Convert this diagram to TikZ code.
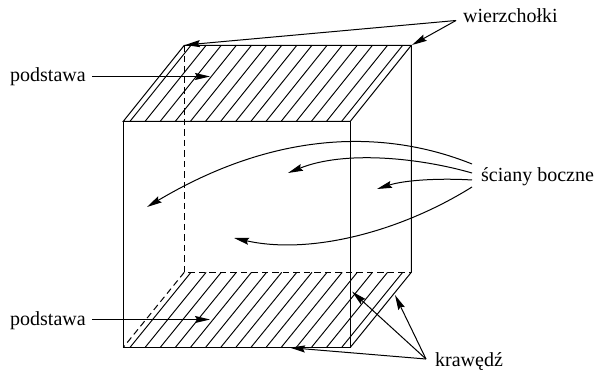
\documentclass[tikz,border=0pt]{standalone}
\usepackage{fontspec}
\setmainfont{Liberation Serif}
\usetikzlibrary{arrows.meta}
\tikzset{
  edge/.style={line width=1pt},
  hatch/.style={line width=0.95pt},
  dashedge/.style={line width=1pt,dash pattern=on 6.5pt off 4pt},
  pointer/.style={line width=1pt,-{Stealth[inset=2pt,length=15pt,width=7pt]}},
  label/.style={inner sep=0pt,font=\fontsize{20}{24}\selectfont,text=black,anchor=base west}
}
\begin{document}
\begin{tikzpicture}[x=1pt,y=-1pt]
\useasboundingbox (0,0) rectangle (596,371);
\coordinate (A) at (123.3,121.3);
\coordinate (B) at (350.3,121.3);
\coordinate (C) at (411.3,45.3);
\coordinate (D) at (184.3,45.3);
\coordinate (E) at (123.3,347.4);
\coordinate (F) at (350.3,347.4);
\coordinate (G) at (411.3,272.3);
\coordinate (H) at (184.3,272.3);
% hatching
\foreach \k in {0,...,14}{
  \draw[hatch] ({130+15.12*\k},121.3) -- ({191+15.12*\k},45.3);
  \draw[hatch] ({130+15.12*\k},347.4) -- ({191+15.12*\k},272.3);
}
% edges
\draw[edge] (A) -- (B) -- (C) -- (D) -- cycle;
\draw[edge] (A) -- (E) -- (F) -- (B);
\draw[edge] (C) -- (G) -- (F);
\draw[dashedge] (D) -- (H) -- (G);
\draw[dashedge] (H) -- (E);
% labels
\node[label] (wz) at (463,23) {wierzchołki};
\node[label] (p1) at (10,82) {podstawa};
\node[label] (p2) at (10,325) {podstawa};
\node[label] (sb) at (481,182) {ściany boczne};
\node[label] (kr) at (435,366) {krawędź};
\coordinate (wzs) at (456,20.5);
\coordinate (sb1) at (472,164);
\coordinate (sb2) at (472,173);
\coordinate (sb3) at (472,180);
\coordinate (sb4) at (472,187);
\coordinate (krs) at (426,359);
\coordinate (t1) at (210,76.5);
\coordinate (t2) at (210,319.5);
\coordinate (p1s) at (92,76.5);
\coordinate (p2s) at (92,319.5);
% pointers
\draw[pointer] (p1s) -- (t1);
\draw[pointer] (p2s) -- (t2);
\draw[pointer] (wzs) -- (185,45);
\draw[pointer] (wzs) -- (412,45);
\draw[pointer] (krs) -- (290,347.7);
\draw[pointer] (krs) -- (352,291.5);
\draw[pointer] (krs) -- (395,295);
\draw[pointer] (sb1) .. controls (400,135) and (290,122) .. (147,207);
\draw[pointer] (sb2) .. controls (420,158) and (345,150) .. (288,173);
\draw[pointer] (sb3) .. controls (440,178) and (405,180) .. (377,189);
\draw[pointer] (sb4) .. controls (400,232) and (310,255) .. (234,238);
\end{tikzpicture}
\end{document}
